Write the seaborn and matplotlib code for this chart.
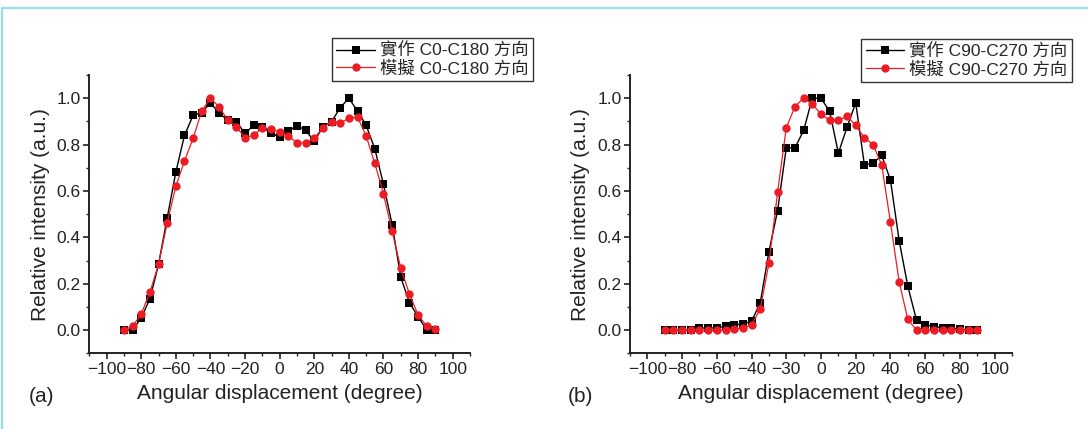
import numpy as np
import pandas as pd
import matplotlib
matplotlib.use("Agg")
import matplotlib.pyplot as plt
from matplotlib.ticker import MultipleLocator
import seaborn as sns

# INPUT
angles = list(range(-90, 91, 5))

a_meas = [0.0, 0.0, 0.053, 0.134, 0.283, 0.483, 0.681, 0.84, 0.926, 0.938, 0.981, 0.935, 0.906,
          0.899, 0.848, 0.884, 0.877, 0.848, 0.834, 0.858, 0.882, 0.861, 0.815, 0.876, 0.899,
          0.959, 1.0, 0.945, 0.883, 0.782, 0.628, 0.455, 0.228, 0.118, 0.058, 0.0, 0.0]
a_sim = [0.0, 0.017, 0.069, 0.163, 0.283, 0.462, 0.62, 0.729, 0.827, 0.945, 1.0, 0.962, 0.906,
         0.877, 0.829, 0.841, 0.873, 0.866, 0.855, 0.837, 0.808, 0.806, 0.827, 0.873, 0.899,
         0.894, 0.913, 0.919, 0.837, 0.719, 0.587, 0.426, 0.267, 0.156, 0.065, 0.017, 0.004]

b_meas = [0.0, 0.0, 0.0, 0.0, 0.009, 0.009, 0.01, 0.016, 0.023, 0.026, 0.038, 0.117, 0.338,
          0.515, 0.786, 0.786, 0.861, 1.0, 1.0, 0.943, 0.763, 0.875, 0.98, 0.712, 0.721,
          0.753, 0.647, 0.386, 0.189, 0.043, 0.023, 0.015, 0.01, 0.008, 0.005, 0.0, 0.0]
b_sim = [0.0, 0.0, 0.0, 0.0, 0.0, 0.0, 0.0, 0.0, 0.004, 0.009, 0.022, 0.091, 0.288,
         0.594, 0.872, 0.964, 1.0, 0.975, 0.931, 0.905, 0.905, 0.922, 0.883, 0.829, 0.8,
         0.711, 0.465, 0.209, 0.046, 0.0, 0.0, 0.0, 0.0, 0.0, 0.0, 0.0, 0.0]

x_ticks = list(range(-100, 101, 20))
x_labels_a = ["\u2212100", "\u221280", "\u221260", "\u221240", "\u221220", "0", "20", "40", "60", "80", "100"]
x_labels_b = ["\u2212100", "\u221280", "\u221260", "\u221240", "\u221230", "0", "20", "40", "60", "80", "100"]

legend_a = ["實作 C0-C180 方向", "模擬 C0-C180 方向"]
legend_b = ["實作 C90-C270 方向", "模擬 C90-C270 方向"]
xlabel = "Angular displacement (degree)"
ylabel = "Relative intensity (a.u.)"

RED = "#ec1c24"

sns.set_style("ticks")
plt.rcParams["font.family"] = ["Liberation Sans", "Noto Sans CJK TC", "DejaVu Sans"]

fig = plt.figure(figsize=(10.88, 4.29), dpi=100)

# light cyan frame (top and left edges)
fig.add_artist(plt.Line2D([2 / 1088, 1], [1 - 8 / 429, 1 - 8 / 429], color="#8fe0f2", lw=1.5))
fig.add_artist(plt.Line2D([2 / 1088, 2 / 1088], [0, 1 - 8 / 429], color="#8fe0f2", lw=1.5))


def panel(rect, meas, sim, labels, xlabs, tag, tag_x, leg_anchor):
    ax = fig.add_axes(rect)
    df = pd.DataFrame({"angle": angles, "meas": meas, "sim": sim})
    sns.lineplot(data=df, x="angle", y="meas", ax=ax, color="black", lw=1,
                 marker="s", markersize=5.5, markeredgewidth=0, label=labels[0], zorder=3)
    sns.lineplot(data=df, x="angle", y="sim", ax=ax, color=RED, lw=0.9,
                 marker="o", markersize=6, markeredgewidth=0, label=labels[1], zorder=4)
    ax.set_xlim(-110, 110)
    ax.set_ylim(-0.1, 1.1)
    ax.set_xticks(x_ticks)
    ax.set_xticklabels(xlabs)
    ax.set_yticks([0.0, 0.2, 0.4, 0.6, 0.8, 1.0])
    ax.set_yticklabels(["0.0", "0.2", "0.4", "0.6", "0.8", "1.0"])
    ax.xaxis.set_minor_locator(MultipleLocator(10))
    ax.yaxis.set_minor_locator(MultipleLocator(0.1))
    ax.tick_params(which="major", direction="out", length=4, width=1.2, labelsize=12.5, pad=2,
                   colors="#222222")
    ax.tick_params(which="minor", direction="out", length=2.5, width=1)
    for s in ["top", "right"]:
        ax.spines[s].set_visible(False)
    for s in ["left", "bottom"]:
        ax.spines[s].set_linewidth(1.4)
        ax.spines[s].set_color("#222222")
    ax.set_xlabel(xlabel, fontsize=15, color="#222222", labelpad=5)
    ax.set_ylabel(ylabel, fontsize=15, color="#222222", labelpad=5)
    leg = ax.legend(loc="upper right", bbox_to_anchor=leg_anchor, borderaxespad=0,
                    fancybox=False, framealpha=1, edgecolor="#333333", fontsize=12.5,
                    handlelength=2.2, handletextpad=0.3, borderpad=0.25, labelspacing=0.1)
    leg.get_frame().set_linewidth(1)
    fig.text(tag_x, 1 - 396 / 429, tag, fontsize=15, ha="center", va="center", color="#222222")
    return ax


panel([89.3 / 1088, 1 - 353.3 / 429, 380.7 / 1088, 278.3 / 429], a_meas, a_sim,
      legend_a, x_labels_a, "(a)", 42 / 1088, (1.165, 1.133))
panel([630 / 1088, 1 - 353.3 / 429, 382 / 1088, 278.3 / 429], b_meas, b_sim,
      legend_b, x_labels_b, "(b)", 580 / 1088, (1.156, 1.13))

fig.savefig("out.png", dpi=100)
